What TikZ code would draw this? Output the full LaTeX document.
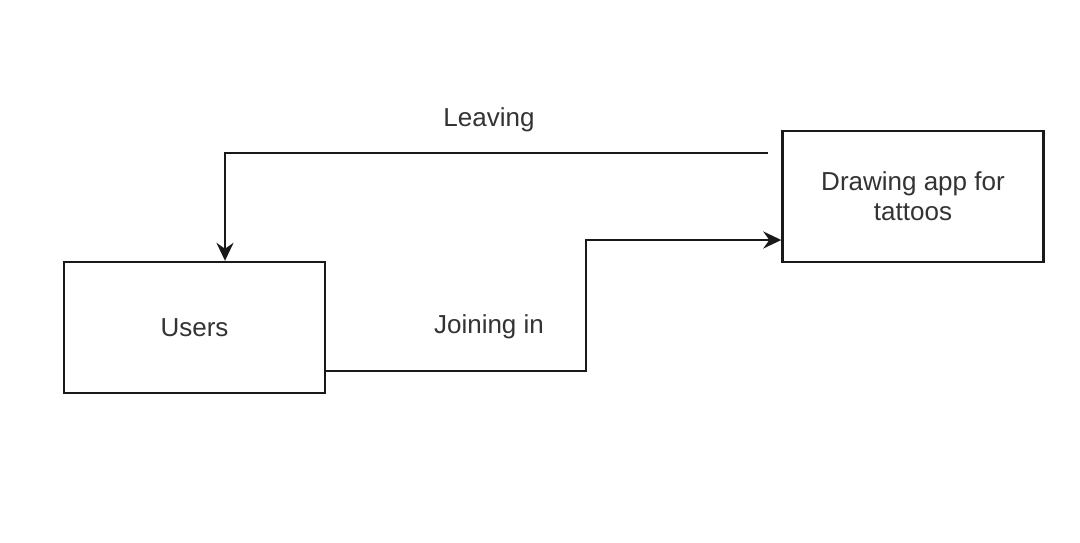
\documentclass[tikz,border=0pt]{standalone}
\usepackage{fontspec}
\setmainfont{Liberation Sans}
\usetikzlibrary{arrows.meta}
\begin{document}
\begin{tikzpicture}[x=1pt,y=-1pt,
  box/.style={draw=black!90,line width=2.4pt,minimum width=261pt,minimum height=131pt,inner sep=0pt,align=center,text=black!80,font=\fontsize{26}{30}\selectfont},
  lbl/.style={text=black!80,font=\fontsize{26}{30}\selectfont,inner sep=0pt},
  conn/.style={draw=black!90,line width=2.4pt,-{Stealth[length=18pt,width=17pt,inset=6pt]}}]
\useasboundingbox (0,0) rectangle (1080,542);
\fill[white] (0,0) rectangle (1080,542);
\node[box] (users) at (194.5,327.5) {Users};
\node[box] (app) at (913,196.5) {Drawing app for\\tattoos};
\coordinate (ls) at (768,153);
\coordinate (j1) at (586,371);
\coordinate (j2) at (586,240);
\draw[conn] (ls) -| (users.north -| 225,0);
\draw[conn] (users.east |- 0,371) -- (j1) -- (j2) -- (app.west |- 0,240);
\node[lbl] (leaving) at (489,120) {Leaving};
\node[lbl] (joining) at (489,327) {Joining in};
\end{tikzpicture}
\end{document}
